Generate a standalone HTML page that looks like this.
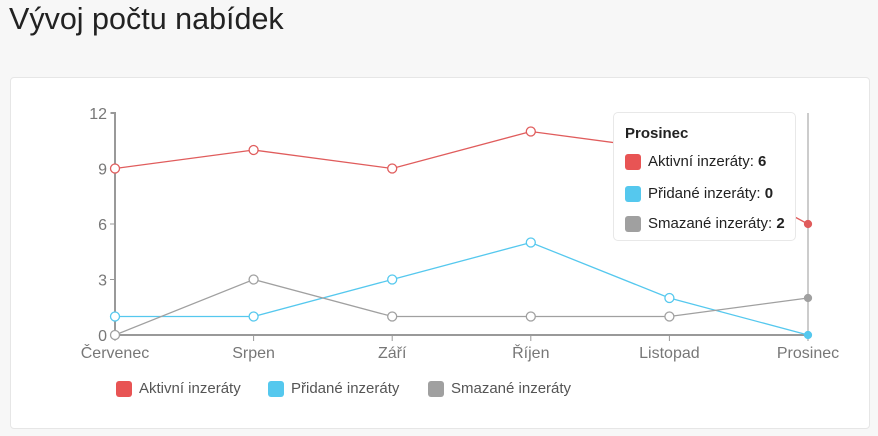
<!DOCTYPE html>
<html><head><meta charset="utf-8"><style>
body{margin:0;width:878px;height:436px;background:#f7f7f7;font-family:"Liberation Sans",sans-serif;overflow:hidden;position:relative}
h1{position:absolute;left:9px;top:2px;margin:0;font-weight:normal;font-size:30.5px;color:#222}
.card{position:absolute;left:10px;top:77px;width:860px;height:352px;background:#fff;border:1px solid #e6e6e6;border-radius:4px;box-sizing:border-box}
.tip{position:absolute;left:613px;top:112px;width:183px;height:129px;background:#fff;border:1px solid #e8e8e8;border-radius:5px;box-sizing:border-box;font-size:15px;color:#222}
.tip b.t{position:absolute;left:11px;top:12px;font-size:15px}
.row{position:absolute;left:11px;display:flex;align-items:center}
.sw{width:16px;height:16px;border-radius:3px;margin-right:7px}
.leg{position:absolute;top:380px;display:flex;align-items:center;font-size:15px;color:#555}
</style></head><body>
<h1>Vývoj počtu nabídek</h1>
<div class="card"></div>
<svg id="chart" width="878" height="436" style="position:absolute;left:0;top:0"></svg>
<div class="tip">
<b class="t">Prosinec</b>
<div class="row" style="top:40px"><div class="sw" style="background:#e85454"></div>Aktivní inzeráty:&nbsp;<b>6</b></div>
<div class="row" style="top:72px"><div class="sw" style="background:#55c8ee"></div>Přidané inzeráty:&nbsp;<b>0</b></div>
<div class="row" style="top:102px"><div class="sw" style="background:#a0a0a0"></div>Smazané inzeráty:&nbsp;<b>2</b></div>
</div>
<div class="leg" style="left:116px"><div class="sw" style="background:#e85454"></div>Aktivní inzeráty</div>
<div class="leg" style="left:268px"><div class="sw" style="background:#55c8ee"></div>Přidané inzeráty</div>
<div class="leg" style="left:428px"><div class="sw" style="background:#a0a0a0"></div>Smazané inzeráty</div>
<script>
const categories=["Červenec","Srpen","Září","Říjen","Listopad","Prosinec"];
const aktivni=[9,10,9,11,10,6];
const pridane=[1,1,3,5,2,0];
const smazane=[0,3,1,1,1,2];
const yTicks=[0,3,6,9,12];
const svg=document.getElementById('chart');const NS='http://www.w3.org/2000/svg';
const x0=115,x1=808,y0=335,y1=113,yMax=12;
const X=i=>x0+(x1-x0)*i/(categories.length-1);
const Y=v=>y0-(y0-y1)*v/yMax;
function mk(t,a){const e=document.createElementNS(NS,t);for(const k in a)e.setAttribute(k,a[k]);svg.appendChild(e);return e;}
let ax=mk('path',{d:`M${x0-4} ${y1}H${x0}V${y0}H${x1}`,stroke:'#999',fill:'none','stroke-width':2});


yTicks.forEach(v=>{mk('line',{x1:x0-5,x2:x0,y1:Y(v),y2:Y(v),stroke:'#999'});
const t=mk('text',{x:x0-8,y:Y(v)+6,'text-anchor':'end','font-size':16,fill:'#777'});t.textContent=v;

});
categories.forEach((c,i)=>{mk('line',{x1:X(i),x2:X(i),y1:y0,y2:y0+6,stroke:'#999'});
const t=mk('text',{x:X(i),y:y0+23,'text-anchor':'middle','font-size':16,fill:'#777'});t.textContent=c;

});
const hl=mk('line',{x1:x1,x2:x1,y1:y1,y2:y0,stroke:'#ccc','stroke-width':2});


[[aktivni,'#e05c5c','aktivni'],[pridane,'#55c8ee','pridane'],[smazane,'#a0a0a0','smazane']].forEach(([d,c,n])=>{
const p=mk('polyline',{points:d.map((v,i)=>X(i)+','+Y(v)).join(' '),stroke:c,fill:'none','stroke-width':1.3});


d.forEach((v,i)=>{const last=i==d.length-1;const ci=mk('circle',{cx:X(i),cy:Y(v),r:last?3.5:4.5,fill:last?c:'#fff',stroke:c,'stroke-width':1.3});

});});
</script>
</body></html>
